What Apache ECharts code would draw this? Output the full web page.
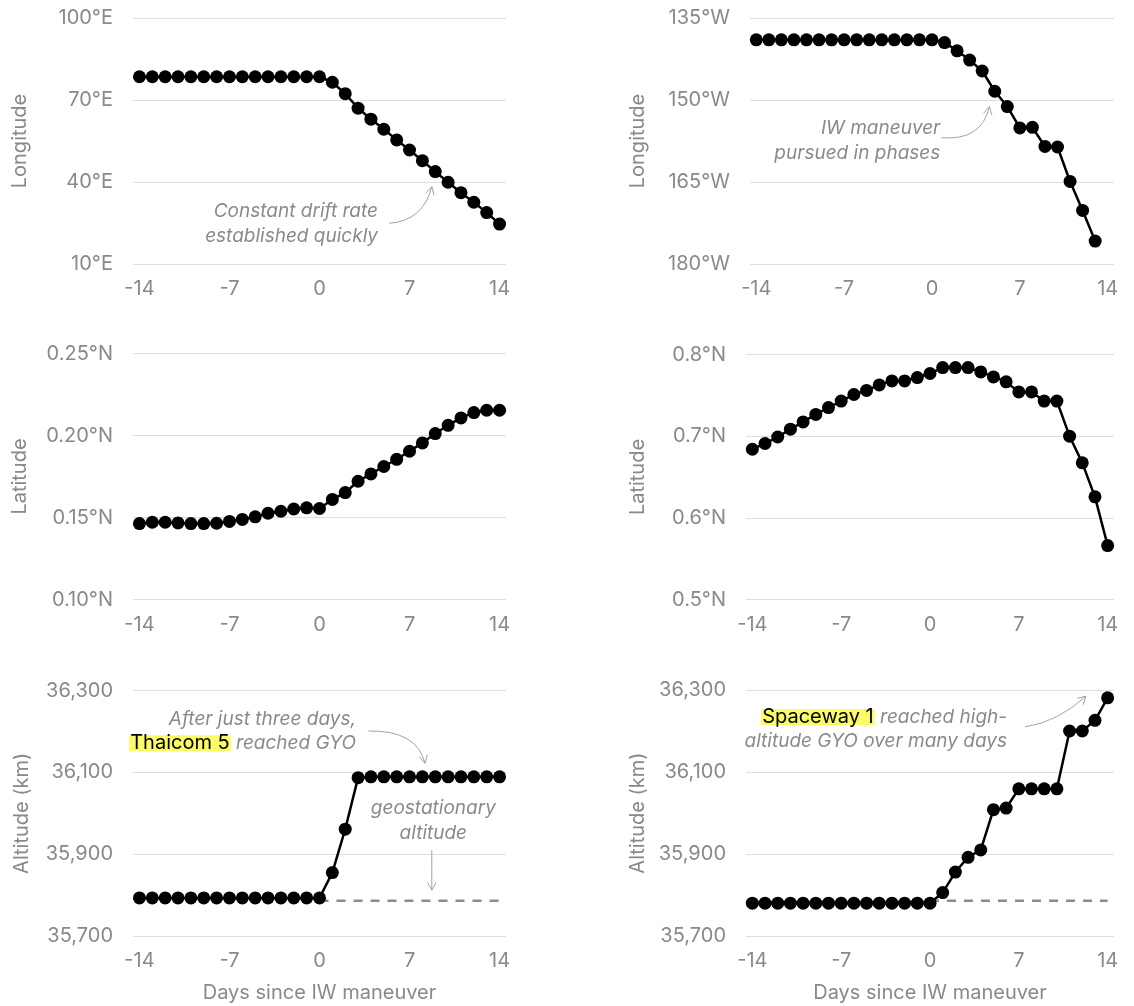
<!DOCTYPE html>
<html>
<head>
<meta charset="utf-8">
<script src="https://cdn.jsdelivr.net/npm/echarts@6/dist/echarts.min.js"></script>
<style>
  html, body { margin: 0; padding: 0; background: #ffffff; }
  #chart { width: 1134px; height: 1006px; }
</style>
</head>
<body>
<div id="chart"></div>
<script>
// Days relative to the inclination-walk (IW) maneuver
const days = [-14, -13, -12, -11, -10, -9, -8, -7, -6, -5, -4, -3, -2, -1, 0,
              1, 2, 3, 4, 5, 6, 7, 8, 9, 10, 11, 12, 13, 14];
const dayTicks = [-14, -7, 0, 7, 14];

// Thaicom 5 (left column)
const thaicomLonE = [78.5, 78.5, 78.5, 78.5, 78.5, 78.5, 78.5, 78.5, 78.5, 78.5, 78.5, 78.5, 78.5, 78.5, 78.5,
                     76.5, 72.3, 67.0, 63.0, 59.3, 55.4, 51.7, 47.8, 43.8, 39.9, 36.1, 32.6, 28.8, 24.6];
const thaicomLatN = [0.1463, 0.1471, 0.1471, 0.1467, 0.1463, 0.1463, 0.1465, 0.1476, 0.1488, 0.1504, 0.1526, 0.1538, 0.1552, 0.1559, 0.1555,
                     0.1610, 0.1652, 0.1721, 0.1766, 0.1811, 0.1855, 0.1904, 0.1955, 0.2012, 0.2062, 0.2107, 0.2140, 0.2154, 0.2154];
const thaicomAltKm = [35793, 35793, 35793, 35793, 35793, 35793, 35793, 35793, 35793, 35793, 35793, 35793, 35793, 35793, 35793,
                      35855, 35961, 36087, 36089, 36089, 36089, 36089, 36089, 36089, 36089, 36089, 36089, 36089, 36089];

// Spaceway 1 (right column); longitude track ends at day 13
const spacewayLonW = [139.0, 139.0, 139.0, 139.0, 139.0, 139.0, 139.0, 139.0, 139.0, 139.0, 139.0, 139.0, 139.0, 139.0, 139.0,
                      139.5, 141.0, 142.7, 144.7, 148.4, 151.2, 155.1, 155.0, 158.5, 158.6, 164.9, 170.2, 175.8];
const spacewayLatN = [0.684, 0.691, 0.699, 0.7086, 0.7175, 0.7266, 0.735, 0.743, 0.751, 0.756, 0.7628, 0.7677, 0.7677, 0.7718, 0.7767,
                      0.784, 0.784, 0.784, 0.7787, 0.7726, 0.7665, 0.7542, 0.7542, 0.743, 0.743, 0.700, 0.6673, 0.6257, 0.566];
const spacewayAltKm = [35780, 35780, 35780, 35780, 35780, 35780, 35780, 35780, 35780, 35780, 35780, 35780, 35780, 35780, 35780,
                       35806, 35856, 35892, 35910, 36008, 36012, 36059, 36059, 36059, 36059, 36200, 36200, 36226, 36281];

// Geostationary altitude reference and its day span
const geoAltitudeKm = 35786;
const geoSpan = [0, 14];

// Tick values for each y axis
const lonETicks = [10, 40, 70, 100];
const lonWTicks = [135, 150, 165, 180];
const latLeftTicks = [0.10, 0.15, 0.20, 0.25];
const latRightTicks = [0.5, 0.6, 0.7, 0.8];
const altTicks = [35700, 35900, 36100, 36300];

const FONT = 'Inter, "Noto Sans", sans-serif';
const GREY = '#898989';
const GRID_LINE = '#dedede';

const chart = echarts.init(document.getElementById('chart'), null, { renderer: 'canvas' });

const grids = [
  { left: 133, top: 18,    width: 373, height: 246 },
  { left: 750, top: 18,    width: 364, height: 246 },
  { left: 133, top: 353.5, width: 373, height: 246 },
  { left: 746, top: 354.5, width: 368, height: 245 },
  { left: 133, top: 690.5, width: 373, height: 245.5 },
  { left: 746, top: 690,   width: 368, height: 246 }
];

function xAxis(gi, withName) {
  return {
    type: 'value', gridIndex: gi, min: -14.5, max: 14.5,
    axisLine: { show: false },
    axisTick: { show: false, customValues: dayTicks },
    splitLine: { show: false },
    axisLabel: { customValues: dayTicks, margin: 15, color: GREY, fontSize: 20, fontFamily: FONT },
    name: withName ? 'Days since IW maneuver' : '',
    nameLocation: 'middle', nameGap: 47,
    nameTextStyle: { color: GREY, fontSize: 20, fontFamily: FONT }
  };
}

function yAxis(gi, name, min, max, ticks, fmt, nameGap, inverse) {
  return {
    type: 'value', gridIndex: gi, min: min, max: max, inverse: !!inverse,
    axisLine: { show: false },
    axisTick: { show: false, customValues: ticks },
    splitLine: { show: true, lineStyle: { color: GRID_LINE, width: 1.2 } },
    axisLabel: { customValues: ticks, formatter: fmt, margin: 20, color: GREY, fontSize: 20, fontFamily: FONT },
    name: name, nameLocation: 'middle', nameRotate: 90, nameGap: nameGap,
    nameTextStyle: { color: GREY, fontSize: 20, fontFamily: FONT }
  };
}

const fmtAlt = v => Number(v).toLocaleString('en-US');

function dotSeries(gi, values) {
  return {
    type: 'line', xAxisIndex: gi, yAxisIndex: gi,
    data: values.map((v, i) => [days[i], v]),
    symbol: 'circle', symbolSize: 13, showSymbol: true,
    lineStyle: { color: '#000', width: 2.5 },
    itemStyle: { color: '#000' },
    z: 3, animation: false, silent: true
  };
}

function geoSeries(gi) {
  return {
    type: 'line', xAxisIndex: gi, yAxisIndex: gi,
    data: geoSpan.map(d => [d, geoAltitudeKm]),
    symbol: 'none',
    lineStyle: { color: '#8c8c8c', width: 2.6, type: [9, 8] },
    z: 2, animation: false, silent: true
  };
}

chart.setOption({
  animation: false,
  backgroundColor: '#ffffff',
  grid: grids,
  xAxis: [xAxis(0), xAxis(1), xAxis(2), xAxis(3), xAxis(4, true), xAxis(5, true)],
  yAxis: [
    yAxis(0, 'Longitude', 10, 100, lonETicks, v => v + '°E', 103),
    yAxis(1, 'Longitude', 135, 180, lonWTicks, v => v + '°W', 102, true),
    yAxis(2, 'Latitude', 0.10, 0.25, latLeftTicks, v => Number(v).toFixed(2) + '°N', 103),
    yAxis(3, 'Latitude', 0.5, 0.8, latRightTicks, v => Number(v).toFixed(1) + '°N', 98),
    yAxis(4, 'Altitude (km)', 35700, 36300, altTicks, fmtAlt, 101),
    yAxis(5, 'Altitude (km)', 35700, 36300, altTicks, fmtAlt, 98)
  ],
  series: [
    dotSeries(0, thaicomLonE),
    dotSeries(1, spacewayLonW),
    dotSeries(2, thaicomLatN),
    dotSeries(3, spacewayLatN),
    geoSeries(4),
    dotSeries(4, thaicomAltKm),
    geoSeries(5),
    dotSeries(5, spacewayAltKm)
  ]
});

// ---- annotations, placed in data coordinates of their panel ----
const px = (gi, pt) => chart.convertToPixel({ gridIndex: gi }, pt);
const NOTE_COLOR = '#8a8a8a';
const ARROW_COLOR = '#a3a3a3';
const noteFont = 'italic 19px ' + FONT;

function note(gi, at, text, align, lineHeight) {
  const p = px(gi, at);
  return {
    type: 'text', x: p[0], y: p[1], z: 10,
    style: {
      text: text, fill: NOTE_COLOR, font: noteFont,
      align: align || 'right', verticalAlign: 'middle', lineHeight: lineHeight || 25,
      rich: {
        hl: {
          fill: '#000', fontStyle: 'normal', fontSize: 20, fontFamily: FONT,
          backgroundColor: '#fbfb66', padding: [0, 1, 0, 1], height: 16
        }
      }
    }
  };
}

function arrow(gi, from, ctrl, to) {
  const a = px(gi, from), c = px(gi, ctrl), b = px(gi, to);
  const dx = b[0] - c[0], dy = b[1] - c[1];
  const len = Math.hypot(dx, dy) || 1;
  const ux = dx / len, uy = dy / len;
  const head = 9, ang = 0.5;
  const side = s => [
    b[0] - head * (ux * Math.cos(ang) - s * uy * Math.sin(ang)),
    b[1] - head * (uy * Math.cos(ang) + s * ux * Math.sin(ang))
  ];
  return [
    {
      type: 'bezierCurve', z: 10, silent: true,
      shape: { x1: a[0], y1: a[1], cpx1: c[0], cpy1: c[1], x2: b[0], y2: b[1] },
      style: { stroke: ARROW_COLOR, lineWidth: 1, fill: null }
    },
    {
      type: 'polyline', z: 10, silent: true,
      shape: { points: [side(1), b, side(-1)] },
      style: { stroke: ARROW_COLOR, lineWidth: 1, fill: null }
    }
  ];
}

const graphics = [].concat(
  note(0, [4.55, 24.7], 'Constant drift rate\nestablished quickly'),
  arrow(0, [5.41, 24.9], [8.05, 25.7], [8.73, 38.3]),

  note(1, [0.66, 157.5], 'IW maneuver\npursued in phases'),
  arrow(1, [0.75, 156.9], [3.96, 157.5], [4.58, 151.2]),

  note(4, [2.84, 36200], 'After just three days,\n{hl|Thaicom 5} reached GYO', 'right', 23.5),
  arrow(4, [3.8, 36201], [7.6, 36203], [8.2, 36122]),
  note(4, [8.85, 35981], 'geostationary\naltitude', 'center', 25),
  arrow(4, [8.73, 35910], [8.73, 35860], [8.73, 35812]),

  note(5, [6.07, 36204], '{hl|Spaceway 1} reached high-\naltitude GYO over many days', 'right', 24.5),
  arrow(5, [7.49, 36210], [10.08, 36222], [12.29, 36285])
);

chart.setOption({ graphic: graphics });
</script>
</body>
</html>
